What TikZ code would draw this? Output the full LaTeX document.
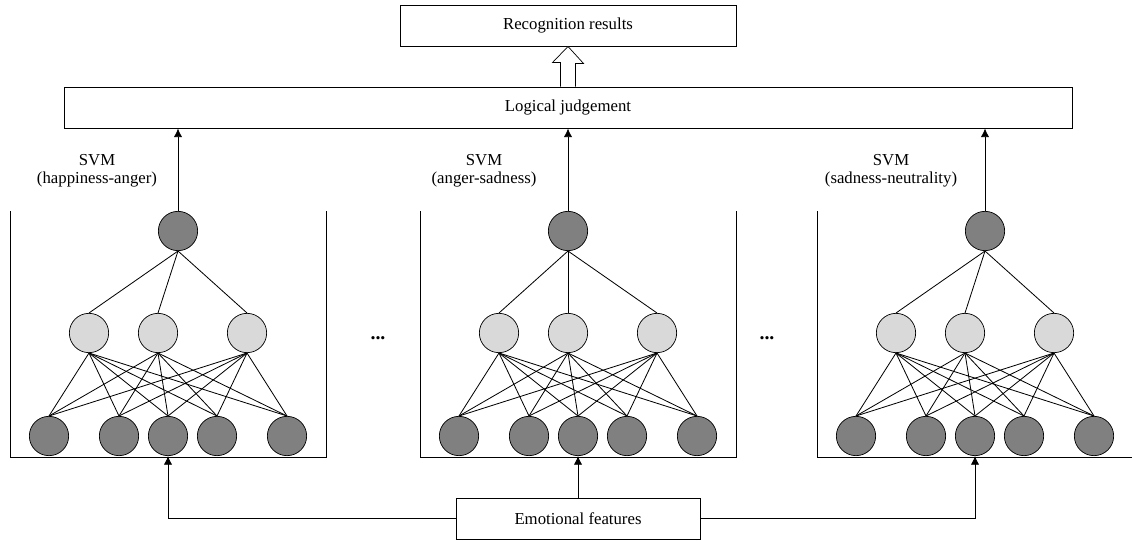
\documentclass[tikz,border=0pt]{standalone}
\usepackage{fontspec}
\setmainfont{Liberation Serif}
\usetikzlibrary{arrows.meta,calc,positioning}

\begin{document}
\begin{tikzpicture}[
    x=0.3mm, y=-0.3mm,
    font=\fontsize{14.3}{15}\selectfont,
    line width=0.8pt,
    arrow/.style={-{Latex[length=2.6mm,width=2.5mm]}, line width=0.7pt},
    box/.style={draw, minimum height=12.3mm, inner sep=0pt},
    unit/.style={draw, circle, minimum size=11.8mm, inner sep=0pt, line width=0.6pt},
    outer/.style={unit, fill=black!50},
    hidden/.style={unit, fill=black!15},
    link/.style={line width=0.7pt}
]
\useasboundingbox (0,0) rectangle (1132,541);

\node[box, minimum width=100.8mm] (result) at (568,25.5) {Recognition results};
\node[box, minimum width=302.4mm] (logic) at (568,107.5) {Logical judgement};
\node[box, minimum width=73.2mm] (feat) at (578,518.5) {Emotional features};

% hollow arrow between the two top boxes
\draw[fill=white, line width=0.6pt] ($(logic.north)+(-7.5,0)$) -- ++(0,-24) -- ++(-8,0)
    -- (result.south) -- ++(15.5,17) -- ++(-8,0) -- ($(logic.north)+(7.5,0)$);

% the three SVM blocks
\foreach \n/\c/\t/\lx/\lab in {a/168/10/97/happiness-anger, b/578/-10/484/anger-sadness,
                              c/975/10/891/sadness-neutrality}{
    \draw (\c-158,211) -- (\c-158,457) -- (\c+158,457) -- (\c+158,211);
    \node[align=center] (\n-label) at (\lx,171) {SVM\\(\lab)};
    \node[outer] (\n-top) at (\c+\t,231) {};
    \foreach \h/\dx in {1/-79,2/-10,3/79}
        \node[hidden] (\n-h\h) at (\c+\dx,333) {};
    \foreach \i/\dx in {1/-119,2/-49,3/0,4/49,5/119}
        \node[outer] (\n-i\i) at (\c+\dx,436) {};
    \foreach \h in {1,2,3}{
        \draw[link] (\n-top.south) -- (\n-h\h.north);
        \foreach \i in {1,...,5}
            \draw[link] (\n-h\h.south) -- (\n-i\i.north);
    }
    \draw[arrow] (\n-top.north) -- (\n-top.north |- logic.south);
}

\node[font=\fontsize{17}{17}\selectfont\bfseries, inner sep=0pt] (dots1) at (378,338) {...};
\node[font=\fontsize{17}{17}\selectfont\bfseries, inner sep=0pt] (dots2) at (767,338) {...};

% feature inputs
\draw[arrow] (feat.north) -- (b-i3.south);
\draw[arrow] (feat.west) -| (a-i3.south);
\draw[arrow] (feat.east) -| (c-i3.south);
\end{tikzpicture}
\end{document}
